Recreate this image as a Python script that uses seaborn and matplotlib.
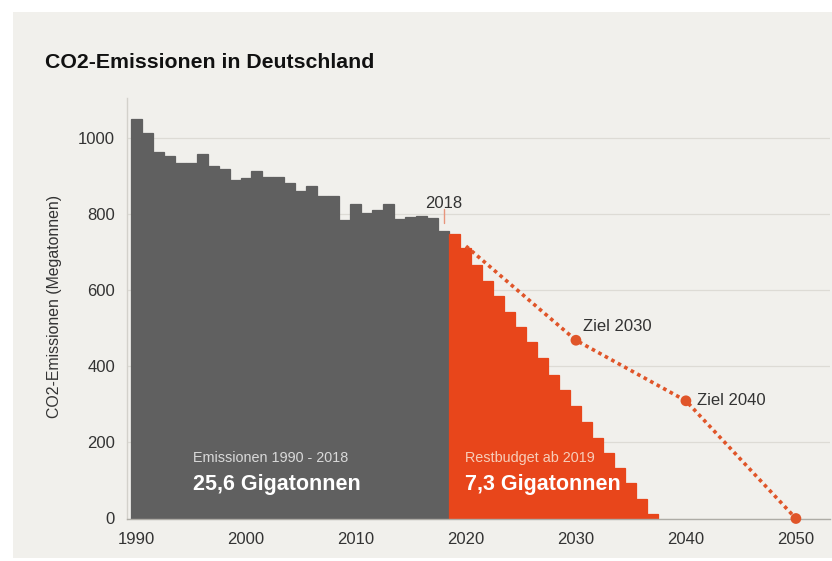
import matplotlib
matplotlib.use("Agg")
import matplotlib.pyplot as plt
from matplotlib.patches import Rectangle
import seaborn as sns

# Jährliche CO2-Emissionen in Megatonnen
hist_years = list(range(1990, 2019))
hist_values = [1048, 1011, 962, 952, 934, 934, 956, 926, 918, 890,
               895, 912, 896, 896, 882, 861, 872, 846, 846, 785,
               826, 803, 809, 826, 787, 791, 794, 789, 754]

# Verbleibendes Budget ab 2019, linear abgebaut
budget_years = list(range(2019, 2038))
budget_values = [748, 709, 665, 624, 584, 542, 503, 463, 422, 378,
                 338, 295, 254, 211, 172, 132, 93, 52, 12]

# Zielpfad der Bundesregierung
path_years = [2020, 2030, 2040, 2050]
path_values = [715, 468, 309, 0]
target_labels = ["Ziel 2030", "Ziel 2040"]

xtick_years = [1990, 2000, 2010, 2020, 2030, 2040, 2050]
ytick_values = [0, 200, 400, 600, 800, 1000]

title = "CO2-Emissionen in Deutschland"
ylabel = "CO2-Emissionen (Megatonnen)"
hist_caption = "Emissionen 1990 - 2018"
hist_total = "25,6 Gigatonnen"
budget_caption = "Restbudget ab 2019"
budget_total = "7,3 Gigatonnen"
marker_year = 2018

GREY = "#606060"
RED = "#e8461b"
PATH = "#e05529"
CREAM = "#f1f0ec"
TEXT = "#333333"

sns.set_style("white")
plt.rcParams["font.family"] = ["Liberation Sans", "DejaVu Sans"]

W, H = 832, 561
fig = plt.figure(figsize=(W / 100, H / 100), dpi=100, facecolor="white")
fig.patches.append(Rectangle((13 / W, 1 - 558 / H), (W - 13) / W, (558 - 12) / H,
                             transform=fig.transFigure, facecolor=CREAM,
                             edgecolor="none", zorder=-10))

ax = fig.add_axes([127 / W, 1 - 518.5 / H, (830 - 127) / W, (518.5 - 98) / H])
ax.set_facecolor("none")

sns.barplot(x=hist_years, y=hist_values, native_scale=True, color=GREY,
            saturation=1, width=1, errorbar=None, linewidth=0.9,
            edgecolor=GREY, ax=ax)
sns.barplot(x=budget_years, y=budget_values, native_scale=True, color=RED,
            saturation=1, width=1, errorbar=None, linewidth=0.9,
            edgecolor=RED, ax=ax)

sns.lineplot(x=path_years, y=path_values, color=PATH, linewidth=2.6,
             ax=ax, zorder=5)
ax.lines[-1].set_dashes([1, 1.05])
sns.scatterplot(x=path_years[1:], y=path_values[1:], color=PATH, s=60,
                edgecolor="none", ax=ax, zorder=6, clip_on=False)

# Markierung 2018
ax.plot([marker_year, marker_year], [775, 812], color="#e8957c", lw=1, zorder=4)
ax.text(marker_year, 828, str(marker_year), ha="center", va="center",
        fontsize=12, color=TEXT)

# Beschriftung der Zielpunkte
ax.text(2030.6, 503, target_labels[0], ha="left", va="center", fontsize=12, color=TEXT)
ax.text(2041.0, 310, target_labels[1], ha="left", va="center", fontsize=12, color=TEXT)

# Summen in den Balkenflächen
ax.text(1995.2, 149, hist_caption, ha="left", va="baseline", fontsize=10.4,
        color="#d9d9d9", zorder=7)
ax.text(1995.2, 75, hist_total, ha="left", va="baseline", fontsize=15.5,
        fontweight="bold", color="white", zorder=7)
ax.text(2019.9, 149, budget_caption, ha="left", va="baseline", fontsize=10.4,
        color="#f7cdb9", zorder=7)
ax.text(2019.9, 75, budget_total, ha="left", va="baseline", fontsize=15.5,
        fontweight="bold", color="white", zorder=7)

ax.set_xlim(1989.18, 2053.1)
ax.set_ylim(0, 1104)
ax.set_xticks(xtick_years)
ax.set_xticklabels([str(y) for y in xtick_years])
ax.set_yticks(ytick_values)
ax.set_yticklabels([str(v) for v in ytick_values])
ax.set_xlabel("")
ax.set_ylabel("")

ax.tick_params(axis="x", direction="in", length=6.5, width=0.8, color="#b8b6b0",
               pad=10, labelsize=12, labelcolor=TEXT)
ax.tick_params(axis="y", length=0, pad=8.6, labelsize=12, labelcolor=TEXT)

# horizontale Gitterlinien hinter den Balken, Tickstriche der x-Achse darüber
ax.grid(axis="y", color="#dddbd5", lw=0.9)
ax.grid(axis="x", visible=False)
ax.set_axisbelow(False)
ax.yaxis.set_zorder(0.5)
ax.xaxis.set_zorder(2.5)

for side in ("top", "right"):
    ax.spines[side].set_visible(False)
ax.spines["left"].set_color("#d3d1cb")
ax.spines["left"].set_linewidth(1)
ax.spines["bottom"].set_color("#aeaca6")
ax.spines["bottom"].set_linewidth(1)

fig.text(45 / W, 1 - 68 / H, title, ha="left", va="baseline", fontsize=15.3,
         fontweight="bold", color="#111111")
fig.text(55 / W, 1 - 306.5 / H, ylabel, ha="center", va="center", rotation=90,
         fontsize=11.4, color=TEXT)

fig.savefig("out.png", dpi=100, facecolor="white")
